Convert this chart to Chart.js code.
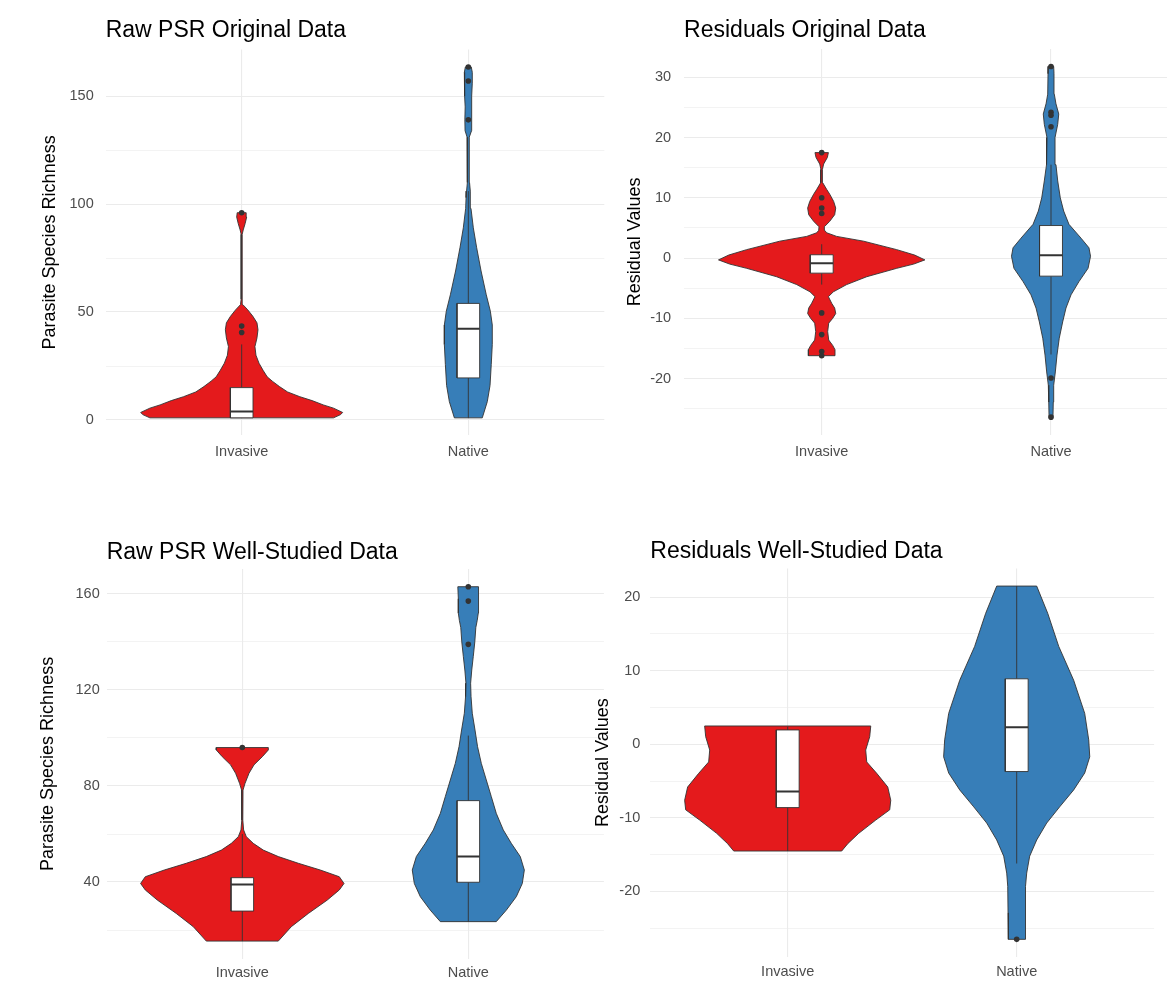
<!DOCTYPE html>
<html>
<head>
<meta charset="utf-8">
<title>Parasite species richness: invasive vs native</title>
<script src="https://cdn.jsdelivr.net/npm/chart.js@4.4.1/dist/chart.umd.min.js"></script>
<style>
  html, body { margin: 0; padding: 0; background: #ffffff; }
  body { position: relative; width: 1167px; height: 984px; overflow: hidden; }
  canvas { position: absolute; }
</style>
</head>
<body>
<canvas id="rawOrig"></canvas>
<canvas id="residOrig"></canvas>
<canvas id="rawWell"></canvas>
<canvas id="residWell"></canvas>
<script>
// ---------- data ----------
const categories = ['Invasive', 'Native'];

// Raw PSR, original data: violin profile (value level -> relative density)
const rawOrigInvLevels  = [1, 2.5, 3.5, 5.5, 7, 9, 10.8, 13, 15.5, 18, 20, 23, 26.3, 30, 34, 38, 41.8, 45, 48, 51, 53.4, 56, 70, 86, 88, 91, 94, 96];
const rawOrigInvDensity = [0.90, 0.97, 0.99, 0.90, 0.80, 0.69, 0.57, 0.45, 0.37, 0.30, 0.25, 0.21, 0.17, 0.14, 0.13, 0.15, 0.16, 0.15, 0.11, 0.06, 0.012, 0.005, 0.005, 0.005, 0.015, 0.034, 0.049, 0.044];
const rawOrigNatLevels  = [1, 8.5, 16, 25.7, 35, 44, 50.4, 58, 69, 80, 89, 98, 103, 106, 110, 123, 131, 134, 139, 145, 150, 156, 161, 163.5];
const rawOrigNatDensity = [0.137, 0.186, 0.213, 0.225, 0.235, 0.235, 0.216, 0.176, 0.125, 0.081, 0.049, 0.026, 0.022, 0.017, 0.012, 0.007, 0.012, 0.032, 0.034, 0.031, 0.034, 0.039, 0.039, 0.029];
// box stats: [lower whisker, Q1, median, Q3, upper whisker]
const rawOrigBoxInv = [1, 1, 4, 15, 35];
const rawOrigBoxNat = [1, 19.5, 42.3, 54, 106];
const rawOrigOutInv = [40.5, 43.5, 96];
const rawOrigOutNat = [139, 157, 163.5];
const rawOrigTicks  = [0, 50, 100, 150];
const rawOrigMinor  = [25, 75, 125];

// Residuals, original data
const residOrigInvLevels  = [-16.2, -15.2, -14.5, -13.6, -12.2, -10.8, -10.0, -9.2, -8.3, -7.5, -6.4, -5.6, -4.4, -3.1, -1.7, -1.0, -0.3, 0.5, 1.4, 2.8, 3.6, 4.2, 4.6, 5.2, 6.1, 7.2, 8.3, 9.4, 10.6, 11.4, 12.5, 14.7, 15.6, 16.7, 17.5];
const residOrigInvDensity = [0.129, 0.129, 0.107, 0.068, 0.058, 0.068, 0.107, 0.136, 0.126, 0.097, 0.065, 0.113, 0.242, 0.436, 0.727, 0.891, 1.0, 0.901, 0.727, 0.407, 0.145, 0.048, 0.029, 0.026, 0.078, 0.126, 0.136, 0.116, 0.078, 0.048, 0.010, 0.007, 0.019, 0.055, 0.065];
const residOrigNatLevels  = [-26.4, -23.9, -21.1, -18.9, -16.1, -13.3, -10.6, -8.3, -6.1, -3.9, -1.7, 0.3, 1.7, 3.3, 5.6, 7.8, 10, 12.8, 15.5, 17.8, 20, 22.2, 23.9, 25.6, 27.2, 30.6, 31.8];
const residOrigNatDensity = [0.019, 0.022, 0.026, 0.042, 0.058, 0.080, 0.113, 0.145, 0.194, 0.271, 0.359, 0.383, 0.368, 0.291, 0.174, 0.123, 0.090, 0.065, 0.048, 0.039, 0.039, 0.065, 0.075, 0.048, 0.032, 0.029, 0.026];
const residOrigBoxInv = [-4.4, -2.5, -0.85, 0.55, 2.3];
const residOrigBoxNat = [-16, -3.0, 0.45, 5.4, 15.5];
const residOrigOutInv = [17.5, 10, 8.3, 7.4, -9.1, -12.7, -15.5, -16.2];
const residOrigOutNat = [31.8, 24.2, 23.7, 21.8, -19.9, -26.4];
const residOrigTicks  = [-20, -10, 0, 10, 20, 30];
const residOrigMinor  = [-25, -15, -5, 5, 15, 25];

// Raw PSR, well-studied data
const rawWellInvLevels  = [15.4, 21.4, 26.9, 32.5, 36.7, 39.4, 42.2, 45, 47.8, 50.6, 53.3, 56.1, 58.9, 61.7, 65.8, 78.3, 81.1, 85.3, 88.8, 92.2, 95, 96];
const rawWellInvDensity = [0.354, 0.482, 0.649, 0.836, 0.954, 1.0, 0.954, 0.767, 0.551, 0.354, 0.206, 0.108, 0.039, 0.013, 0.005, 0.007, 0.027, 0.066, 0.115, 0.197, 0.256, 0.256];
const rawWellNatLevels  = [23.5, 28.3, 33.9, 39.4, 45, 50.6, 56.1, 61.7, 68.6, 75.6, 82.5, 89.4, 96.4, 103.3, 110.3, 117.2, 122.8, 128.3, 134, 140, 146, 149, 152, 158, 163];
const rawWellNatDensity = [0.275, 0.374, 0.472, 0.531, 0.551, 0.511, 0.423, 0.344, 0.275, 0.226, 0.177, 0.128, 0.091, 0.066, 0.039, 0.027, 0.023, 0.034, 0.049, 0.064, 0.074, 0.088, 0.098, 0.098, 0.103];
const rawWellBoxInv = [15.4, 27.9, 39, 41.8, 60];
const rawWellBoxNat = [23.5, 39.9, 50.6, 73.9, 101];
const rawWellOutInv = [96];
const rawWellOutNat = [139, 157, 163];
const rawWellTicks  = [40, 80, 120, 160];
const rawWellMinor  = [20, 60, 100, 140];

// Residuals, well-studied data
const residWellInvLevels  = [-14.5, -13.5, -12.1, -10.3, -8.9, -7.6, -5.8, -3.95, -2.4, -0.78, 1.04, 2.49];
const residWellInvDensity = [0.524, 0.583, 0.689, 0.854, 0.990, 1.0, 0.971, 0.864, 0.767, 0.757, 0.796, 0.806];
const residWellNatLevels  = [-26.5, -22.9, -19.3, -17.5, -15.2, -13, -10.7, -8.5, -6.2, -3.9, -1.7, 0.6, 4.2, 8.7, 13.3, 17.8, 21.5];
const residWellNatDensity = [0.081, 0.084, 0.087, 0.097, 0.126, 0.194, 0.291, 0.417, 0.553, 0.660, 0.709, 0.699, 0.660, 0.553, 0.408, 0.301, 0.194];
const residWellBoxInv = [-14.5, -8.6, -6.4, 1.95, 2.4];
const residWellBoxNat = [-16.2, -3.7, 2.3, 8.9, 21.5];
const residWellOutInv = [];
const residWellOutNat = [-26.5];
const residWellTicks  = [-20, -10, 0, 10, 20];
const residWellMinor  = [-25, -15, -5, 5, 15];

// ---------- styling ----------
const FONT = "'Liberation Sans', Arial, Helvetica, sans-serif";
const INK = '#333333';
const GROUP_COLORS = ['#E41A1C', '#377EB8'];
const GRID = '#EBEBEB';
const TICK_COLOR = '#4D4D4D';
const TITLE_SIZE = 23;
const AXIS_TITLE_SIZE = 18;
const TICK_SIZE = 14.5;
const MAX_HALF = 0.45;   // half of the violin width (category units)
const BOX_HALF = 0.05;   // half of the box width

const panels = [
  {
    id: 'rawOrig', title: 'Raw PSR Original Data', yTitle: 'Parasite Species Richness',
    box: { left: 0, top: 0, width: 620, height: 480 },
    area: { left: 105.7, top: 49.4, right: 604.3, bottom: 435.4 },
    titleMid: 30.5, yTitleX: 50, xLabelMid: 451.5, tickGap: 12,
    ticks: rawOrigTicks, minor: rawOrigMinor,
    groups: [
      { levels: rawOrigInvLevels, density: rawOrigInvDensity, stats: rawOrigBoxInv, outliers: rawOrigOutInv },
      { levels: rawOrigNatLevels, density: rawOrigNatDensity, stats: rawOrigBoxNat, outliers: rawOrigOutNat }
    ]
  },
  {
    id: 'residOrig', title: 'Residuals Original Data', yTitle: 'Residual Values',
    box: { left: 580, top: 0, width: 620, height: 480 },
    area: { left: 684.1, top: 48.9, right: 1188.6, bottom: 434.7 },
    titleMid: 30.5, yTitleX: 635, xLabelMid: 451.5, tickGap: 13,
    ticks: residOrigTicks, minor: residOrigMinor,
    groups: [
      { levels: residOrigInvLevels, density: residOrigInvDensity, stats: residOrigBoxInv, outliers: residOrigOutInv },
      { levels: residOrigNatLevels, density: residOrigNatDensity, stats: residOrigBoxNat, outliers: residOrigOutNat }
    ]
  },
  {
    id: 'rawWell', title: 'Raw PSR Well-Studied Data', yTitle: 'Parasite Species Richness',
    box: { left: 0, top: 500, width: 620, height: 484 },
    area: { left: 106.7, top: 569, right: 603.9, bottom: 958.8 },
    titleMid: 553, yTitleX: 48, xLabelMid: 973, tickGap: 7,
    ticks: rawWellTicks, minor: rawWellMinor,
    groups: [
      { levels: rawWellInvLevels, density: rawWellInvDensity, stats: rawWellBoxInv, outliers: rawWellOutInv },
      { levels: rawWellNatLevels, density: rawWellNatDensity, stats: rawWellBoxNat, outliers: rawWellOutNat }
    ]
  },
  {
    id: 'residWell', title: 'Residuals Well-Studied Data', yTitle: 'Residual Values',
    box: { left: 560, top: 500, width: 607, height: 484 },
    area: { left: 650.3, top: 568.4, right: 1154.1, bottom: 957 },
    titleMid: 552, yTitleX: 603, xLabelMid: 972, tickGap: 10,
    ticks: residWellTicks, minor: residWellMinor,
    groups: [
      { levels: residWellInvLevels, density: residWellInvDensity, stats: residWellBoxInv, outliers: residWellOutInv },
      { levels: residWellNatLevels, density: residWellNatDensity, stats: residWellBoxNat, outliers: residWellOutNat }
    ]
  }
];

// closed outline: right edge upwards, then left edge back down
function violinOutline(center, levels, density) {
  const right = levels.map((v, i) => ({ x: center + density[i] * MAX_HALF, y: v }));
  const left = levels.map((v, i) => ({ x: center - density[i] * MAX_HALF, y: v })).reverse();
  const pts = right.concat(left);
  pts.push(pts[0]);
  return pts;
}

function boxOutline(center, q1, q3) {
  return [
    { x: center - BOX_HALF, y: q1 }, { x: center + BOX_HALF, y: q1 },
    { x: center + BOX_HALF, y: q3 }, { x: center - BOX_HALF, y: q3 },
    { x: center - BOX_HALF, y: q1 }
  ];
}

function buildPanel(p) {
  const cv = document.getElementById(p.id);
  cv.width = p.box.width;
  cv.height = p.box.height;
  cv.style.left = p.box.left + 'px';
  cv.style.top = p.box.top + 'px';

  // y range: data extent plus 5% on each side
  const values = [];
  p.groups.forEach(g => values.push(...g.levels, ...g.outliers, g.stats[0], g.stats[4]));
  const lo = Math.min(...values), hi = Math.max(...values);
  const pad = (hi - lo) * 0.05;

  const datasets = [];
  p.groups.forEach((g, gi) => {
    const c = gi + 1;
    datasets.push({
      label: categories[gi] + ' violin', data: violinOutline(c, g.levels, g.density),
      fill: 'shape', backgroundColor: GROUP_COLORS[gi], borderColor: INK, borderWidth: 0.9,
      borderJoinStyle: 'round', order: 4
    });
    datasets.push({
      label: categories[gi] + ' whisker', data: [{ x: c, y: g.stats[0] }, { x: c, y: g.stats[4] }],
      fill: false, borderColor: INK, borderWidth: 0.9, order: 3
    });
    datasets.push({
      label: categories[gi] + ' box', data: boxOutline(c, g.stats[1], g.stats[3]),
      fill: 'shape', backgroundColor: '#FFFFFF', borderColor: INK, borderWidth: 0.9, order: 2
    });
    datasets.push({
      label: categories[gi] + ' median', data: [{ x: c - BOX_HALF, y: g.stats[2] }, { x: c + BOX_HALF, y: g.stats[2] }],
      fill: false, borderColor: INK, borderWidth: 2, order: 1
    });
    datasets.push({
      label: categories[gi] + ' outliers', data: g.outliers.map(v => ({ x: c, y: v })),
      showLine: false, pointRadius: 2.8, pointBackgroundColor: INK, pointBorderWidth: 0, order: 0
    });
  });

  const titleLine = TITLE_SIZE * 1.2;
  const titleTop = p.titleMid - p.box.top - titleLine / 2;
  const titleBottom = (p.area.top - p.box.top) - titleTop - titleLine;
  const tickLine = TICK_SIZE * 1.2;
  const yTicks = p.ticks.concat(p.minor).sort((a, b) => a - b);

  new Chart(cv, {
    type: 'line',
    data: { datasets },
    options: {
      responsive: false,
      animation: false,
      events: [],
      indexAxis: 'y',
      layout: { padding: { left: 0, top: 0, bottom: 0, right: (p.box.left + p.box.width) - p.area.right } },
      datasets: { line: { indexAxis: 'y', pointRadius: 0, tension: 0 } },
      plugins: {
        legend: { display: false },
        tooltip: { enabled: false },
        title: {
          display: true, text: p.title, align: 'start', fullSize: false, color: '#000000',
          font: { family: FONT, size: TITLE_SIZE, weight: 'normal', lineHeight: 1.2 },
          padding: { top: titleTop, bottom: titleBottom }
        }
      },
      scales: {
        x: {
          type: 'linear', min: 0.4, max: 2.6,
          afterBuildTicks: s => { s.ticks = categories.map((_, i) => ({ value: i + 1 })); },
          afterFit: s => { s.height = (p.box.top + p.box.height) - p.area.bottom; },
          ticks: {
            autoSkip: false, maxRotation: 0, color: TICK_COLOR,
            font: { family: FONT, size: TICK_SIZE, lineHeight: 1.2 },
            padding: p.xLabelMid - p.area.bottom - tickLine / 2,
            callback: v => categories[Math.round(v) - 1]
          },
          grid: { color: GRID, lineWidth: 1.1, drawTicks: false },
          border: { display: false }
        },
        y: {
          type: 'linear', min: lo - pad, max: hi + pad, bounds: 'data',
          afterBuildTicks: s => { s.ticks = yTicks.map(v => ({ value: v })); },
          afterFit: s => { s.width = p.area.left - p.box.left; },
          ticks: {
            autoSkip: false, color: TICK_COLOR, padding: p.tickGap,
            font: { family: FONT, size: TICK_SIZE, lineHeight: 1.2 },
            callback: v => (p.ticks.includes(v) ? String(v) : '')
          },
          grid: {
            color: GRID, drawTicks: false,
            lineWidth: ctx => (ctx.tick && p.ticks.includes(ctx.tick.value) ? 1.1 : 0.6)
          },
          border: { display: false },
          title: {
            display: true, text: p.yTitle, color: '#000000',
            font: { family: FONT, size: AXIS_TITLE_SIZE, lineHeight: 1.2 },
            padding: { top: p.yTitleX - p.box.left - AXIS_TITLE_SIZE * 0.6, bottom: 0 }
          }
        }
      }
    }
  });
}

panels.forEach(buildPanel);
</script>
</body>
</html>
